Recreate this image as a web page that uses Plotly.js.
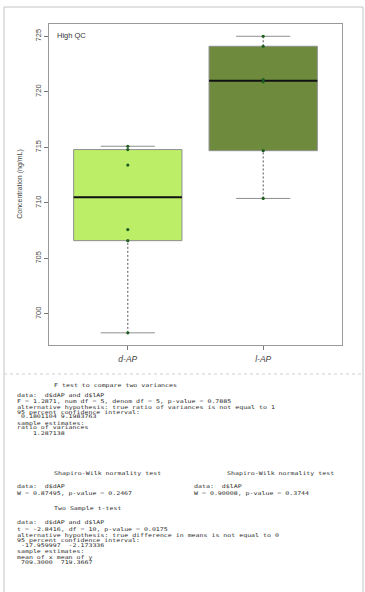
<!DOCTYPE html>
<html><head><meta charset="utf-8">
<script src="https://cdn.plot.ly/plotly-3.0.1.min.js"></script>
<style>
html,body{margin:0;padding:0;background:#fff}
#chart{width:365px;height:592px}
#chart .annotation-text[style*="Mono"]{transform-box:fill-box;transform-origin:center;transform:scaleY(0.78)}
</style>
</head><body><div id="chart"></div>
<script>
// ---- data ----
const categories = ['d-AP', 'l-AP'];
const dAP = [698.3, 706.6, 707.6, 713.4, 714.8, 715.1];
const lAP = [710.4, 714.7, 720.9, 721.1, 724.1, 725.0];
const yTicks = [700, 705, 710, 715, 720, 725];
const boxColors = ['#BCEE68', '#6E8B3D'];
const panelLabel = 'High QC';
const yTitle = 'Concentration (ng/mL)';

const fTestTitle = 'F test to compare two variances';
const fTestLines = [
  'data:  d$dAP and d$lAP',
  'F = 1.2871, num df = 5, denom df = 5, p-value = 0.7885',
  'alternative hypothesis: true ratio of variances is not equal to 1',
  '95 percent confidence interval:',
  ' 0.1801104 9.1983763',
  'sample estimates:',
  'ratio of variances',
  '    1.287138'
];
const swTitle = 'Shapiro-Wilk normality test';
const swLeft = ['data:  d$dAP', 'W = 0.87495, p-value = 0.2467'];
const swRight = ['data:  d$lAP', 'W = 0.90008, p-value = 0.3744'];
const tTestTitle = 'Two Sample t-test';
const tTestLines = [
  'data:  d$dAP and d$lAP',
  't = -2.8416, df = 10, p-value = 0.0175',
  'alternative hypothesis: true difference in means is not equal to 0',
  '95 percent confidence interval:',
  ' -17.959997  -2.173336',
  'sample estimates:',
  'mean of x mean of y',
  ' 709.3000  719.3667'
];

// ---- helpers ----
function stats(v) {
  const s = [...v].sort((a, b) => a - b), n = s.length;
  const med = a => { const m = a.length; return m % 2 ? a[(m - 1) / 2] : (a[m / 2 - 1] + a[m / 2]) / 2; };
  return { min: s[0], q1: med(s.slice(0, Math.ceil(n / 2))), med: med(s),
           q3: med(s.slice(Math.floor(n / 2))), max: s[n - 1] };
}
const W = 365, H = 592;
const px = x => x / W, py = y => 1 - y / H;

const groups = [dAP, lAP];
const traces = [];
const boxW = 0.8, capW = 0.4;
groups.forEach((vals, i) => {
  const s = stats(vals), xc = i + 1;
  traces.push({ type: 'box', x: [xc], q1: [s.q1], median: [s.med], q3: [s.q3],
    lowerfence: [s.q1], upperfence: [s.q3], width: boxW, whiskerwidth: 0,
    fillcolor: boxColors[i], line: { color: '#8f8f8f', width: 1 },
    boxpoints: false, hoverinfo: 'skip', showlegend: false });
  traces.push({ type: 'scatter', mode: 'lines', x: [xc, xc, null, xc, xc],
    y: [s.min, s.q1, null, s.q3, s.max], line: { color: '#555', width: 1, dash: '2px,2px' },
    hoverinfo: 'skip', showlegend: false });
  traces.push({ type: 'scatter', mode: 'lines',
    x: [xc - capW / 2, xc + capW / 2, null, xc - capW / 2, xc + capW / 2],
    y: [s.min, s.min, null, s.max, s.max], line: { color: '#8f8f8f', width: 1 },
    hoverinfo: 'skip', showlegend: false });
  traces.push({ type: 'scatter', mode: 'lines', x: [xc - boxW / 2, xc + boxW / 2],
    y: [s.med, s.med], line: { color: '#111', width: 2 }, hoverinfo: 'skip', showlegend: false });
});
groups.forEach((vals, i) => {
  traces.push({ type: 'scatter', mode: 'markers', x: vals.map(() => i + 1), y: vals,
    marker: { color: '#1E5E1E', size: 3.2 }, hoverinfo: 'skip', showlegend: false });
});

const mono = { family: 'DejaVu Sans Mono', size: 6.6, color: '#2a2a2a' };
const nb = t => t.replace(/ /g, '\u00a0');
const annotations = [];
function txt(t, x, y, font) {
  annotations.push({ xref: 'paper', yref: 'paper', x: px(x), y: py(y), text: nb(t),
    showarrow: false, xanchor: 'left', yanchor: 'middle', borderpad: 0, font: font || mono });
}
txt(panelLabel, 56, 35.5, { family: 'Liberation Sans', size: 7.5, color: '#333' });
const lh = 5.4;
txt(fTestTitle, 52.7, 385);
fTestLines.forEach((t, k) => txt(t, 16, 395.7 + k * lh));
txt(swTitle, 52.7, 472.5); txt(swTitle, 225.7, 472.5);
swLeft.forEach((t, k) => txt(t, 16, 486.7 + k * 6));
swRight.forEach((t, k) => txt(t, 192.7, 486.7 + k * 6));
txt(tTestTitle, 52.7, 508.3);
tTestLines.forEach((t, k) => txt(t, 16, 523.3 + k * 5.63));

const border = { color: '#c4c4c4', width: 1 };
const shapes = [
  { type: 'line', xref: 'paper', yref: 'paper', x0: px(4), x1: px(4), y0: py(7), y1: py(600), line: border },
  { type: 'line', xref: 'paper', yref: 'paper', x0: px(363), x1: px(363), y0: py(7), y1: py(600), line: border },
  { type: 'line', xref: 'paper', yref: 'paper', x0: px(4), x1: px(363), y0: py(7), y1: py(7), line: border },
  { type: 'line', xref: 'paper', yref: 'paper', x0: px(4), x1: px(363), y0: py(374), y1: py(374),
    line: { color: '#cfcfcf', width: 1, dash: 'dot' } }
];

const layout = {
  width: W, height: H, margin: { l: 0, r: 0, t: 0, b: 0 },
  paper_bgcolor: '#fff', plot_bgcolor: '#fff', showlegend: false,
  xaxis: { domain: [px(49.3), px(341.7)], range: [0.42, 2.58], tickvals: [1, 2], ticktext: categories,
    ticks: 'outside', ticklen: 4, tickcolor: '#777', showline: true, linecolor: '#999', mirror: true,
    showgrid: false, zeroline: false, ticklabelstandoff: 2,
    tickfont: { family: 'Liberation Sans', size: 8.5, color: '#444', style: 'italic' } },
  yaxis: { domain: [py(344.5), py(23.5)], range: [697.25, 726.15], tickvals: yTicks,
    ticks: 'outside', ticklen: 4, tickcolor: '#777', showline: true, linecolor: '#999', mirror: true,
    showgrid: false, zeroline: false, tickangle: -90,
    tickfont: { family: 'Liberation Sans', size: 7.5, color: '#444' },
    title: { text: yTitle, standoff: 10, font: { family: 'Liberation Sans', size: 7, color: '#444' } } },
  annotations, shapes
};
Plotly.newPlot('chart', traces, layout, { staticPlot: true, displayModeBar: false });
</script></body></html>
